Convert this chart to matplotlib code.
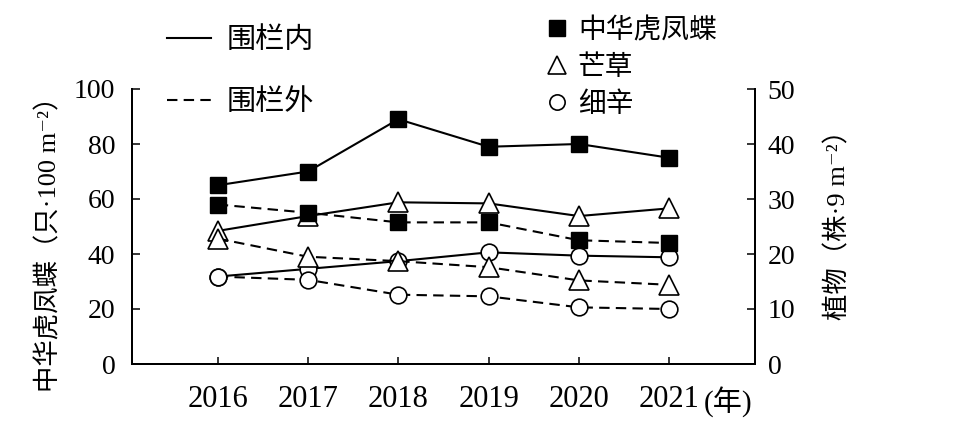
import matplotlib as mpl
mpl.use("Agg")
import matplotlib.pyplot as plt
from matplotlib.lines import Line2D

plt.rcParams["font.family"] = ["Liberation Serif", "Noto Sans CJK SC", "DejaVu Serif"]

YEARS = [2016, 2017, 2018, 2019, 2020, 2021]
BUTTERFLY_IN = [65, 70, 89, 79, 80, 75]
BUTTERFLY_OUT = [58, 55, 51.5, 51.5, 45, 44]
GRASS_IN = [24.2, 26.9, 29.4, 29.2, 26.9, 28.3]
GRASS_OUT = [22.8, 19.5, 18.7, 17.6, 15.2, 14.4]
ASARUM_IN = [15.9, 17.3, 18.7, 20.3, 19.7, 19.4]
ASARUM_OUT = [15.9, 15.3, 12.6, 12.3, 10.3, 10.0]

LEFT_TICKS = [0, 20, 40, 60, 80, 100]
RIGHT_TICKS = [0, 10, 20, 30, 40, 50]

W, H = 966, 424
LW = 1.5
DASH = (0, (5, 3))

fig = plt.figure(figsize=(W / 100, H / 100), dpi=100)
ax = fig.add_axes([132 / W, 1 - 364 / H, (755 - 132) / W, (364 - 89) / H])
ax2 = ax.twinx()

# plants on right axis: circles first, then triangles, butterflies on top
circ = dict(marker="o", markersize=12, markerfacecolor="white",
            markeredgecolor="black", markeredgewidth=1.2, color="black", lw=LW)
tri = dict(marker="^", markersize=14, markerfacecolor="white",
           markeredgecolor="black", markeredgewidth=1.2, color="black", lw=LW)
sq = dict(marker="s", markersize=11, markerfacecolor="black",
          markeredgecolor="black", color="black", lw=LW)

ax2.plot(YEARS, ASARUM_IN, ls="-", **circ)
ax2.plot(YEARS, ASARUM_OUT, ls=DASH, **circ)
ax2.plot(YEARS, GRASS_IN, ls="-", **tri)
ax2.plot(YEARS, GRASS_OUT, ls=DASH, **tri)
ax2.plot(YEARS, BUTTERFLY_IN, ls="-", transform=ax.transData, **sq)
ax2.plot(YEARS, BUTTERFLY_OUT, ls=DASH, transform=ax.transData, **sq)

ax.set_xlim(2015.05, 2021.95)
ax.set_ylim(0, 100)
ax2.set_ylim(0, 50)

for a in (ax, ax2):
    a.spines["top"].set_visible(False)
    for s in a.spines.values():
        s.set_linewidth(1.4)

ax.set_xticks(YEARS)
ax.set_yticks(LEFT_TICKS)
ax2.set_yticks(RIGHT_TICKS)
ax.tick_params(axis="x", direction="in", length=5, width=1.1, pad=15, labelsize=22)
ax.tick_params(axis="y", direction="in", length=6, width=1.1, pad=12, labelsize=20)
ax2.tick_params(axis="y", direction="in", length=6, width=1.1, pad=9, labelsize=20)

ax.set_ylabel("中华虎凤蝶（只·100 m⁻²）", fontsize=19)
ax.yaxis.set_label_coords(-0.114, 0.46)
ax2.set_ylabel("植物（株·9 m⁻²）", fontsize=19)
ax2.yaxis.set_label_coords(1.113, 0.53)

ax.annotate("(年)", xy=(1.0, 0), xycoords="axes fraction",
            xytext=(-51, -38), textcoords="offset pixels",
            ha="left", va="center", fontsize=21)

line_handles = [
    Line2D([0], [0], color="black", lw=LW, ls="-", label="围栏内"),
    Line2D([0], [0], color="black", lw=LW, ls=DASH, label="围栏外"),
]
fig.legend(handles=line_handles, loc="upper left",
           bbox_to_anchor=(167 / W, 1 - 27 / H), frameon=False,
           fontsize=21, handlelength=1.5, handletextpad=0.55,
           labelspacing=1.22, borderpad=0, borderaxespad=0)

marker_handles = [
    Line2D([0], [0], ls="none", marker="s", markersize=11, color="black",
           label="中华虎凤蝶"),
    Line2D([0], [0], ls="none", marker="^", markersize=13, markerfacecolor="white",
           markeredgecolor="black", markeredgewidth=1.2, label="芒草"),
    Line2D([0], [0], ls="none", marker="o", markersize=11, markerfacecolor="white",
           markeredgecolor="black", markeredgewidth=1.2, label="细辛"),
]
fig.legend(handles=marker_handles, loc="upper left",
           bbox_to_anchor=(546 / W, 1 - 18 / H), frameon=False,
           fontsize=20, handlelength=0.8, handletextpad=0.35,
           labelspacing=0.4, borderpad=0, borderaxespad=0)

fig.savefig("out.png", dpi=100, facecolor="white")
